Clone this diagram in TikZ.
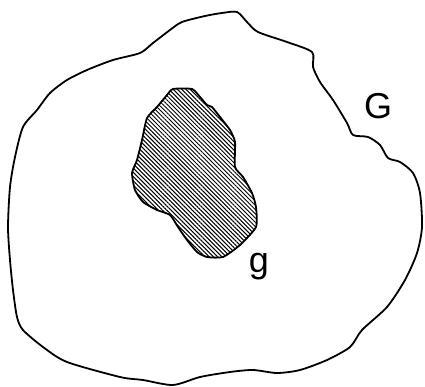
\documentclass[tikz,border=0pt]{standalone}
\usepackage{fontspec}
\setmainfont{Liberation Sans}
\usetikzlibrary{patterns.meta}
\tikzset{
  region/.style={draw=black, line width=1.8pt, line join=round},
  hatched/.style={region, pattern={Lines[angle=-45,distance=3pt,line width=1pt]}},
  lbl/.style={font=\fontsize{36}{36}\selectfont, inner sep=0pt}
}
\begin{document}
\begin{tikzpicture}[x=1pt,y=-1pt]
\useasboundingbox (0,0) rectangle (425,387);
\draw[region] plot[smooth cycle, tension=0.45] coordinates {
 (182,22) (205,16) (222,13) (237,12) (247,22) (258,32) (287,42) (312,52)
 (313,67) (320,82) (333,100) (347,123) (353,135) (368,137) (380,145)
 (388,158) (400,162) (413,173) (420,193) (422,227) (417,253) (405,280)
 (387,307) (362,330) (350,347) (327,360) (300,370) (277,373) (253,370)
 (230,372) (200,377) (173,385) (143,380) (120,377) (67,362) (43,347)
 (23,330) (17,317) (13,290) (10,260) (8,227) (10,187) (15,157) (23,127)
 (37,110) (50,93) (67,80) (87,70) (113,60) (140,53) (153,43) (170,30)
};
\draw[hatched] plot[smooth cycle, tension=0.35] coordinates {
 (173,89) (192,89) (200,97) (207,105) (212,107) (220,117) (230,130)
 (235,142) (235,167) (243,177) (252,193) (256,207) (256,227) (240,245)
 (223,257) (207,257) (197,252) (187,240) (178,227) (170,215) (157,210)
 (143,202) (135,190) (132,173) (137,160) (142,140) (147,118) (157,107)
 (167,95)
};
\node[lbl] (G) at (378,106) {G};
\node[lbl, anchor=base] (g) at (259,272) {g};
\end{tikzpicture}
\end{document}
